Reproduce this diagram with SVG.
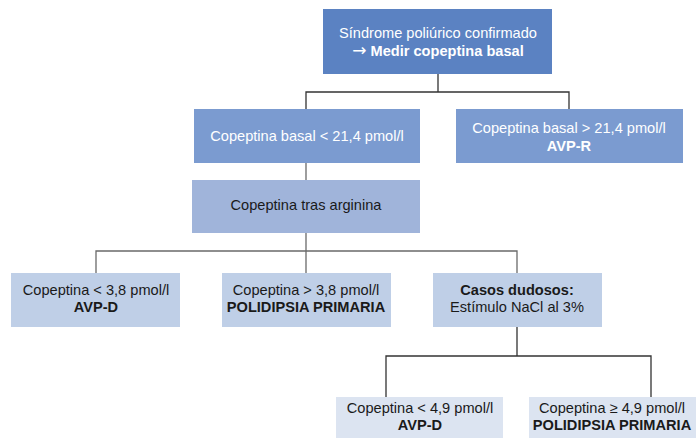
<svg xmlns="http://www.w3.org/2000/svg" width="696" height="438" viewBox="0 0 696 438">
<style>
text{font-family:"Liberation Sans",Arial,sans-serif;font-size:14.6px;text-anchor:middle}
.w{fill:#ffffff}
.d{fill:#1a1a1a}
.b{font-weight:bold}
.ar{font-family:"DejaVu Sans",sans-serif;font-weight:normal;font-size:17px}
.c1{fill:#5b82c2}
.c2{fill:#7b9bd0}
.c3{fill:#a0b4da}
.c4{fill:#bfcfe7}
.c5{fill:#dce4f1}
.ln{fill:none;stroke:#333333;stroke-width:1.3}
.lg{fill:none;stroke:#6a6a6a;stroke-width:1.3}
</style>
<rect width="696" height="438" fill="#ffffff"/>
<g id="connectors">
<path class="ln" d="M438 74V92M306 109V92H569V109"/>
<path class="lg" d="M306 163V180M306 233V273M96 273V251H517V273"/>
<path class="ln" d="M517 327V356M386 397V356H651V397"/>
</g>
<g id="n1"><rect class="c1" x="323" y="9" width="229" height="65"/>
<text class="w" x="438" y="38">Síndrome poliúrico confirmado</text>
<text class="w b" x="438" y="56"><tspan class="ar">→</tspan> Medir copeptina basal</text></g>
<g id="n2"><rect class="c2" x="194" y="109" width="226" height="54"/>
<text class="w" x="307" y="141">Copeptina basal &lt; 21,4 pmol/l</text></g>
<g id="n3"><rect class="c2" x="456" y="109" width="227" height="54"/>
<text class="w" x="569" y="133">Copeptina basal &gt; 21,4 pmol/l</text>
<text class="w b" x="569" y="151">AVP-R</text></g>
<g id="n4"><rect class="c3" x="192" y="180" width="228" height="53"/>
<text class="d" x="306" y="210">Copeptina tras arginina</text></g>
<g id="n5"><rect class="c4" x="11" y="273" width="169" height="54"/>
<text class="d" x="96" y="295">Copeptina &lt; 3,8 pmol/l</text>
<text class="d b" x="96" y="312">AVP-D</text></g>
<g id="n6"><rect class="c4" x="222" y="273" width="169" height="54"/>
<text class="d" x="306" y="295">Copeptina &gt; 3,8 pmol/l</text>
<text class="d b" x="306" y="312">POLIDIPSIA PRIMARIA</text></g>
<g id="n7"><rect class="c4" x="433" y="273" width="169" height="54"/>
<text class="d b" x="517" y="295">Casos dudosos:</text>
<text class="d" x="517" y="312">Estímulo NaCl al 3%</text></g>
<g id="n8"><rect class="c5" x="336" y="397" width="167" height="41"/>
<text class="d" x="420" y="413">Copeptina &lt; 4,9 pmol/l</text>
<text class="d b" x="420" y="430">AVP-D</text></g>
<g id="n9"><rect class="c5" x="529" y="397" width="167" height="41"/>
<text class="d" x="612" y="413">Copeptina ≥ 4,9 pmol/l</text>
<text class="d b" x="612" y="430">POLIDIPSIA PRIMARIA</text></g>
</svg>
